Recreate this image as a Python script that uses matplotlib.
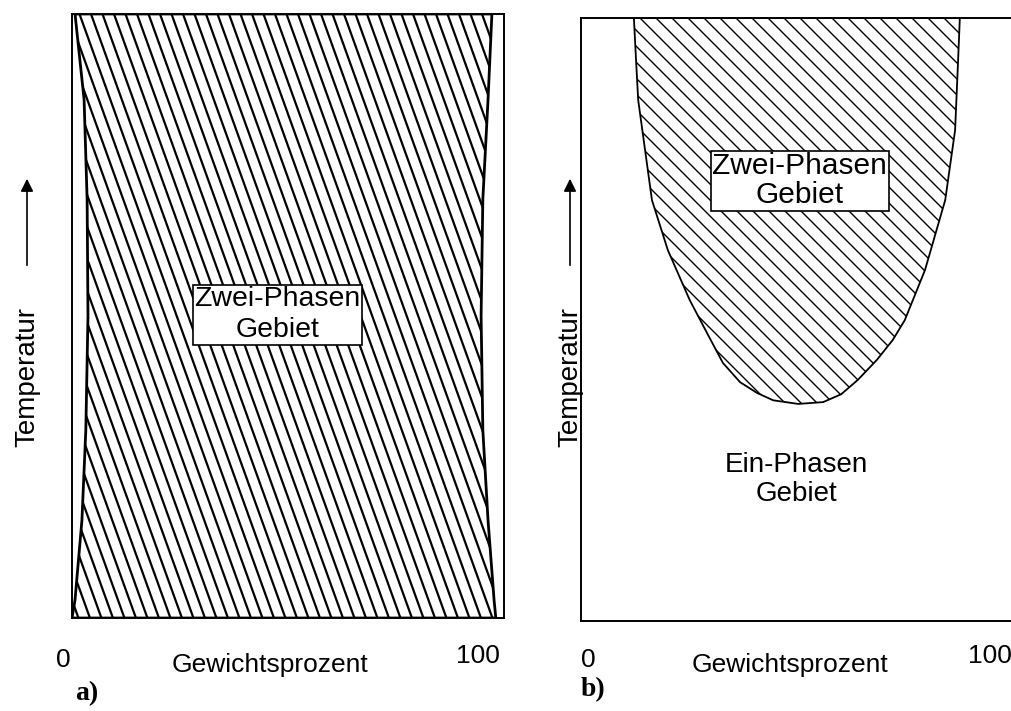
import numpy as np
import matplotlib
matplotlib.use("Agg")
import matplotlib.pyplot as plt
from matplotlib.patches import Polygon, FancyArrowPatch
from matplotlib.collections import LineCollection

# ---- data (percent of panel box: x = Gewichtsprozent, y = temperature) ----
# panel a: two-phase region bounded by two nearly vertical curves
a_temp = [100, 85.8, 69.3, 50, 31.1, 16.2, 3.0, 0]
a_left = [0.7, 2.8, 3.5, 3.7, 3.2, 2.3, 0.7, 0.0]
a_right = [97.2, 96.3, 95.1, 94.7, 95.1, 96.3, 97.7, 98.1]

# panel b: miscibility gap (U shape), left branch top->bottom, right branch bottom->top
b_left_x = [12.3, 12.8, 13.3, 14.9, 16.5, 20.2, 25.3, 29.5, 33.0, 37.0, 41.0, 44.7, 50.5]
b_left_y = [100, 93.0, 86.4, 78.1, 69.8, 61.5, 53.2, 47.5, 42.8, 39.6, 37.8, 36.6, 36.0]
b_right_x = [56.3, 60.5, 64.4, 68.8, 72.5, 75.3, 80.0, 84.7, 87.0, 87.7, 88.1]
b_right_y = [36.3, 37.6, 40.0, 43.3, 46.6, 49.9, 58.2, 69.8, 81.4, 93.0, 100]

two_phase = "Zwei-Phasen\nGebiet"
one_phase = "Ein-Phasen\nGebiet"
x_label = "Gewichtsprozent"
y_label = "Temperatur"
tick_lo, tick_hi = "0", "100"

W, H = 1011, 711
fig = plt.figure(figsize=(W / 100, H / 100), dpi=100)
SANS = "Liberation Sans"
SERIF = "Liberation Serif"


def hatch(ax, poly, spacing, ratio, lw):
    """Draw straight hatch lines (down-right), clipped to poly."""
    segs = []
    for x0 in np.arange(-150, 220, spacing):
        segs.append([(x0, 100), (x0 + ratio * 100, 0)])
    lc = LineCollection(segs, colors="black", linewidths=lw)
    ax.add_collection(lc)
    lc.set_clip_path(poly)


# ---------------- panel a ----------------
axa = fig.add_axes([72 / W, 1 - 618 / H, 432 / W, 604 / H])
axa.set_xlim(0, 100)
axa.set_ylim(0, 100)
axa.set_xticks([])
axa.set_yticks([])
for s in axa.spines.values():
    s.set_linewidth(1.4)
pa = list(zip(a_left, a_temp)) + list(zip(a_right[::-1], a_temp[::-1]))
polya = Polygon(pa, closed=True, facecolor="none", edgecolor="black", lw=2.0,
                joinstyle="round")
axa.add_patch(polya)
hatch(axa, polya, 11.5 / 4.32, 0.36 * 6.04 / 4.32, 1.6)
axa.text(47.5, 50.2, two_phase, ha="center", va="center", fontsize=20.5,
         family=SANS, linespacing=1.25,
         bbox=dict(boxstyle="square,pad=0.05", fc="white", ec="black", lw=1.2),
         zorder=5)

# ---------------- panel b ----------------
axb = fig.add_axes([581 / W, 1 - 621 / H, 430 / W, 603 / H])
axb.set_xlim(0, 100)
axb.set_ylim(0, 100)
axb.set_xticks([])
axb.set_yticks([])
for s in axb.spines.values():
    s.set_linewidth(1.4)
axb.spines["right"].set_visible(False)
pb = list(zip(b_left_x, b_left_y)) + list(zip(b_right_x, b_right_y))
polyb = Polygon(pb, closed=True, facecolor="none", edgecolor="black", lw=1.3,
                joinstyle="round")
axb.add_patch(polyb)
hatch(axb, polyb, 16 / 4.30, 6.03 / 4.30, 1.0)
axb.text(50.9, 73.0, two_phase, ha="center", va="center", fontsize=21.5,
         family=SANS, linespacing=1.05,
         bbox=dict(boxstyle="square,pad=0.05", fc="white", ec="black", lw=1.2),
         zorder=5)
axb.text(50.2, 23.4, one_phase, ha="center", va="center", fontsize=20,
         family=SANS, linespacing=1.15)

# ---------------- labels in figure pixels ----------------
def ftxt(x, y, s, **kw):
    fig.text(x / W, 1 - y / H, s, **kw)

for (x0, xg, x1, lab, lx, ly) in [(63, 270, 478, "a)", 87, 694), (588, 790, 990, "b)", 593, 690)]:
    ftxt(x0, 660, tick_lo, ha="center", va="center", fontsize=19, family=SANS)
    ftxt(xg, 665, x_label, ha="center", va="center", fontsize=19, family=SANS)
    ftxt(x1, 656, tick_hi, ha="center", va="center", fontsize=19, family=SANS)
    ftxt(lx, ly, lab, ha="center", va="center", fontsize=20, family=SERIF,
         weight="bold")

for xt in (27, 570):
    ftxt(xt, 377, y_label, ha="center", va="center", fontsize=20, family=SANS,
         rotation=90)
    fig.add_artist(FancyArrowPatch(
        (xt / W, 1 - 268 / H), (xt / W, 1 - 176 / H),
        transform=fig.transFigure, arrowstyle="-|>,head_length=5,head_width=2.5",
        color="black", lw=1.2, mutation_scale=1.5))

fig.savefig("out.png", dpi=100)
